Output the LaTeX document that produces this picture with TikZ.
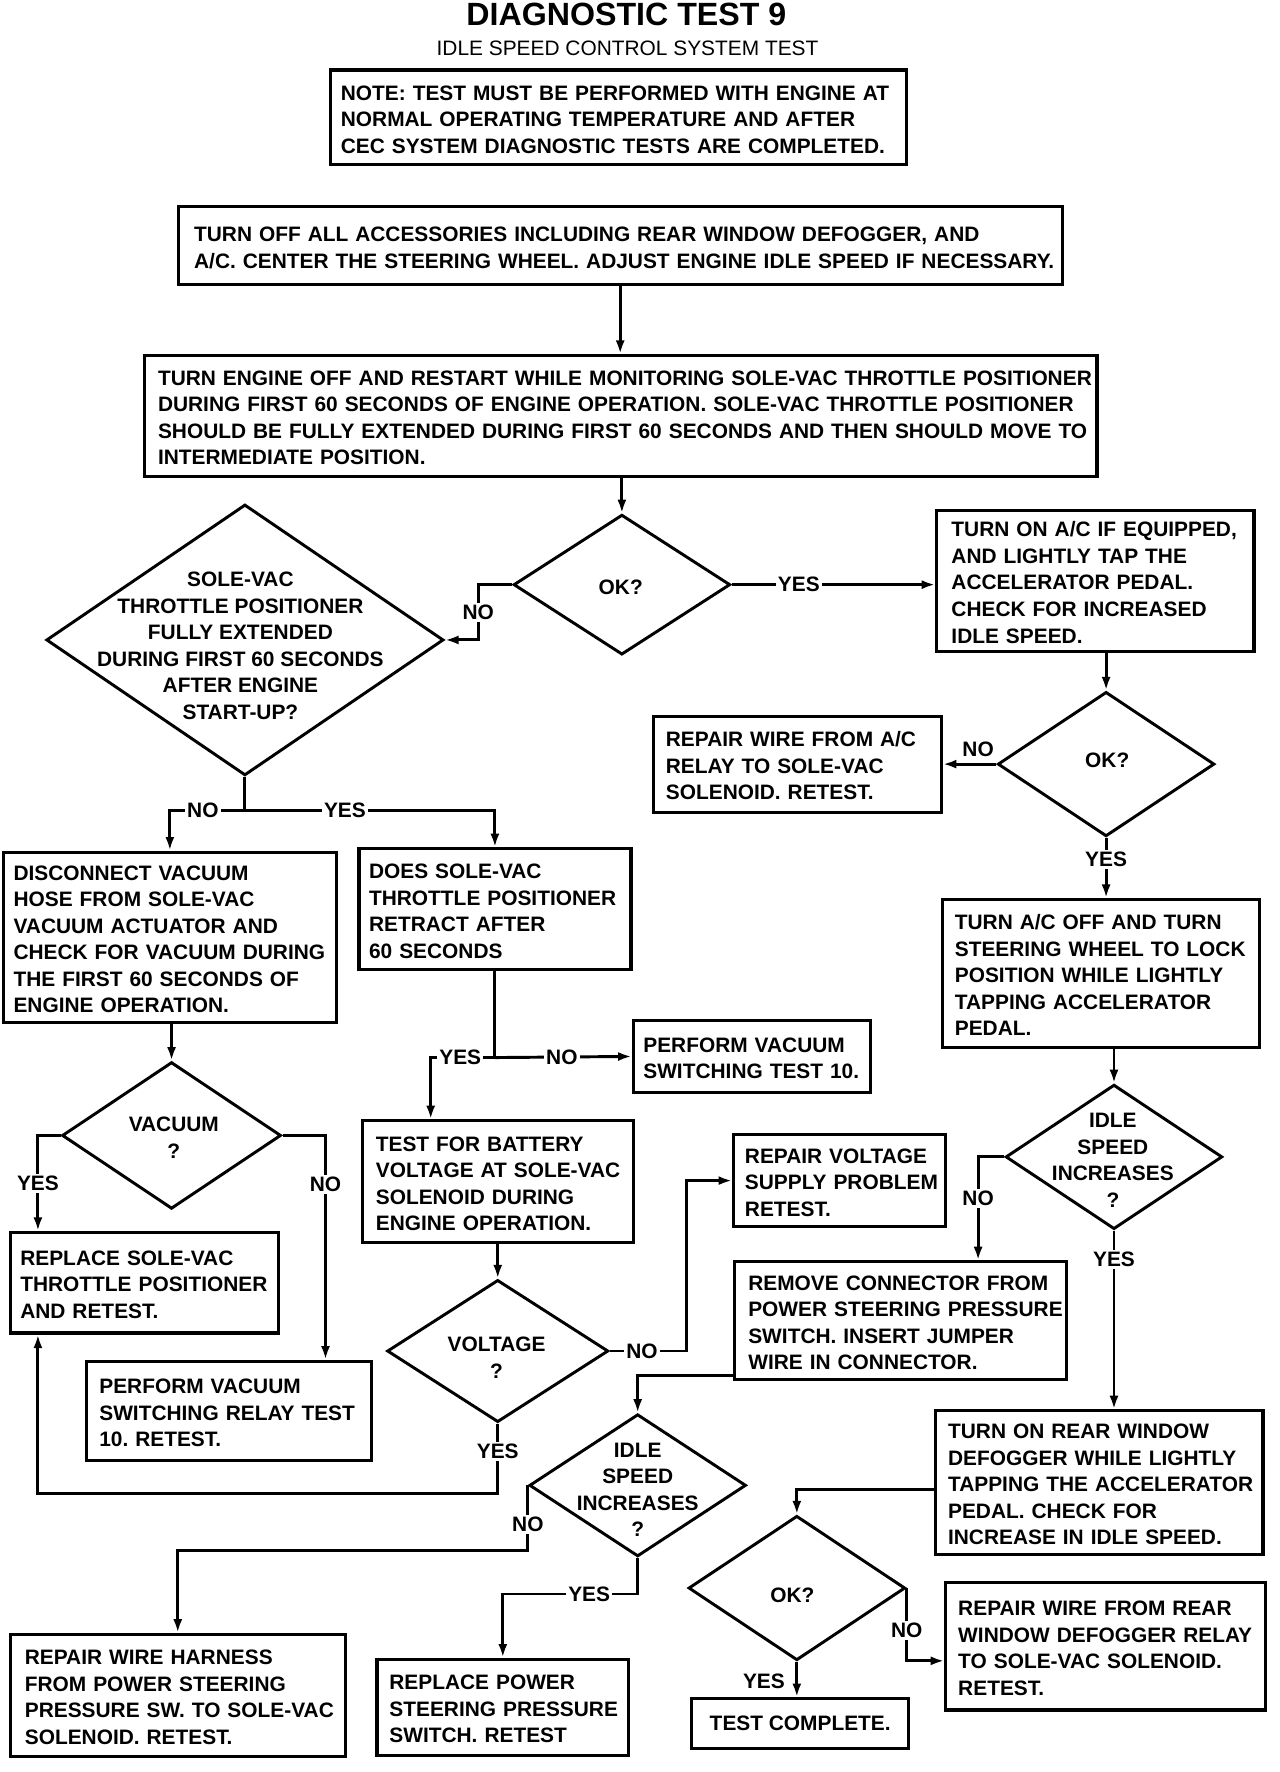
\documentclass[tikz,border=0pt]{standalone}
\usepackage{fontspec}
\setmainfont{Liberation Sans}
\usetikzlibrary{shapes.geometric,arrows.meta,calc}
\frenchspacing
\newcommand{\bfont}{\fontsize{18.5}{23.5}\selectfont\bfseries\frenchspacing}
\newcommand{\bt}[1]{\raisebox{-3.5pt}[\height][\depth]{\begin{tabular}{@{}l@{}}#1\end{tabular}}}
\begin{document}
\begin{tikzpicture}[x=1pt,y=-1pt,
 box/.style={draw,rectangle,line width=2.8pt,inner xsep=#1,inner ysep=0pt,font=\bfont,align=left},
 dia/.style={draw,diamond,line width=2.6pt,inner sep=0pt},
 dtxt/.style={align=center,font=\bfont,inner sep=0pt},
 lab/.style={fill=white,inner sep=2pt,font=\bfont},
 ln/.style={line width=2.6pt},
 arr/.style={ln,-{Latex[length=12pt,width=8pt]}}]
\fill[white] (0,0) rectangle (1134,1570);
\useasboundingbox (0,0) rectangle (1134,1570);

% titles
\node[font=\fontsize{28.5}{30}\selectfont\bfseries] (title) at (555,13) {DIAGNOSTIC TEST 9};
\node[font=\fontsize{18.5}{20}\selectfont] (sub) at (556,43) {IDLE SPEED CONTROL SYSTEM TEST};

% boxes
\node[box=9pt,minimum width=510pt,minimum height=84pt,text width=492pt] (note) at (548,104)
 {\bt{NOTE: TEST MUST BE PERFORMED WITH ENGINE AT\\NORMAL OPERATING TEMPERATURE AND AFTER\\CEC SYSTEM DIAGNOSTIC TESTS ARE COMPLETED.}};
\node[box=14pt,minimum width=783pt,minimum height=69pt,text width=755pt] (off) at (549.5,217.5)
 {\bt{TURN OFF ALL ACCESSORIES INCLUDING REAR WINDOW DEFOGGER, AND\\A/C. CENTER THE STEERING WHEEL. ADJUST ENGINE IDLE SPEED IF NECESSARY.}};
\node[box=12pt,minimum width=844pt,minimum height=107pt,text width=820pt] (restart) at (550,368.5)
 {\bt{TURN ENGINE OFF AND RESTART WHILE MONITORING SOLE-VAC THROTTLE POSITIONER\\DURING FIRST 60 SECONDS OF ENGINE OPERATION. SOLE-VAC THROTTLE POSITIONER\\SHOULD BE FULLY EXTENDED DURING FIRST 60 SECONDS AND THEN SHOULD MOVE TO\\INTERMEDIATE POSITION.}};
\node[box=13pt,minimum width=281pt,minimum height=125pt,text width=255pt] (acon) at (970.5,514.5)
 {\bt{TURN ON A/C IF EQUIPPED,\\AND LIGHTLY TAP THE\\ACCELERATOR PEDAL.\\CHECK FOR INCREASED\\IDLE SPEED.}};
\node[box=11pt,minimum width=255pt,minimum height=85pt,text width=233pt] (acr) at (706.5,677)
 {\bt{REPAIR WIRE FROM A/C\\RELAY TO SOLE-VAC\\SOLENOID. RETEST.}};
\node[box=11pt,minimum width=281pt,minimum height=131pt,text width=259pt] (acoff) at (975.5,862.5)
 {\bt{TURN A/C OFF AND TURN\\STEERING WHEEL TO LOCK\\POSITION WHILE LIGHTLY\\TAPPING ACCELERATOR\\PEDAL.}};
\node[box=9pt,minimum width=295pt,minimum height=151pt,text width=277pt] (disc) at (150.5,830.5)
 {\bt{DISCONNECT VACUUM\\HOSE FROM SOLE-VAC\\VACUUM ACTUATOR AND\\CHECK FOR VACUUM DURING\\THE FIRST 60 SECONDS OF\\ENGINE OPERATION.}};
\node[box=9pt,minimum width=241pt,minimum height=107pt,text width=223pt] (does) at (438.5,805.5)
 {\bt{DOES SOLE-VAC\\THROTTLE POSITIONER\\RETRACT AFTER\\60 SECONDS}};
\node[box=9pt,minimum width=210pt,minimum height=64pt,text width=192pt] (pvs) at (666,936)
 {\bt{PERFORM VACUUM\\SWITCHING TEST 10.}};
\node[box=12pt,minimum width=240pt,minimum height=108pt,text width=216pt] (batt) at (441,1047)
 {\bt{TEST FOR BATTERY\\VOLTAGE AT SOLE-VAC\\SOLENOID DURING\\ENGINE OPERATION.}};
\node[box=10pt,minimum width=188pt,minimum height=82pt,text width=168pt] (rvs) at (744,1046)
 {\bt{REPAIR VOLTAGE\\SUPPLY PROBLEM\\RETEST.}};
\node[box=12pt,minimum width=294pt,minimum height=104pt,text width=270pt] (rem) at (798,1170)
 {\bt{REMOVE CONNECTOR FROM\\POWER STEERING PRESSURE\\SWITCH. INSERT JUMPER\\WIRE IN CONNECTOR.}};
\node[box=9pt,minimum width=238pt,minimum height=89pt,text width=220pt] (rsv) at (128,1136.5)
 {\bt{REPLACE SOLE-VAC\\THROTTLE POSITIONER\\AND RETEST.}};
\node[box=11pt,minimum width=252pt,minimum height=88pt,text width=230pt] (pvr) at (203,1250)
 {\bt{PERFORM VACUUM\\SWITCHING RELAY TEST\\10. RETEST.}};
\node[box=11pt,minimum width=290pt,minimum height=127pt,text width=268pt] (rear) at (974,1313.5)
 {\bt{TURN ON REAR WINDOW\\DEFOGGER WHILE LIGHTLY\\TAPPING THE ACCELERATOR\\PEDAL. CHECK FOR\\INCREASE IN IDLE SPEED.}};
\node[box=13pt,minimum width=297pt,minimum height=108pt,text width=271pt] (rwh) at (157.5,1502)
 {\bt{REPAIR WIRE HARNESS\\FROM POWER STEERING\\PRESSURE SW. TO SOLE-VAC\\SOLENOID. RETEST.}};
\node[box=11pt,minimum width=223pt,minimum height=85pt,text width=201pt] (rps) at (445.5,1512.5)
 {\bt{REPLACE POWER\\STEERING PRESSURE\\SWITCH. RETEST}};
\node[box=11pt,minimum width=283pt,minimum height=113pt,text width=261pt] (rwd) at (979.5,1458.5)
 {\bt{REPAIR WIRE FROM REAR\\WINDOW DEFOGGER RELAY\\TO SOLE-VAC SOLENOID.\\RETEST.}};
\node[draw,rectangle,line width=2.8pt,inner sep=0pt,font=\bfont,minimum width=192pt,minimum height=44pt] (tc) at (709,1527) {TEST COMPLETE.};

% diamonds
\node[dia,minimum width=192pt,minimum height=124pt] (ok1) at (551,518) {};
\node[dtxt] (ok1t) at (550,520) {OK?};
\node[dia,minimum width=352pt,minimum height=240pt] (sv) at (217,567) {};
\node[dtxt] (svt) at (213,572) {SOLE-VAC\\THROTTLE POSITIONER\\FULLY EXTENDED\\DURING FIRST 60 SECONDS\\AFTER ENGINE\\START-UP?};
\node[dia,minimum width=192pt,minimum height=128pt] (ok2) at (980,677) {};
\node[dtxt] (ok2t) at (981,674) {OK?};
\node[dia,minimum width=194pt,minimum height=130pt] (vac) at (152,1006) {};
\node[dtxt] (vact) at (154,1008) {VACUUM\\?};
\node[dia,minimum width=196pt,minimum height=126pt] (volt) at (441,1197) {};
\node[dtxt] (voltt) at (440,1203) {VOLTAGE\\?};
\node[dia,minimum width=192pt,minimum height=128pt] (is1) at (987,1025) {};
\node[dtxt] (is1t) at (986,1028) {IDLE\\SPEED\\INCREASES\\?};
\node[dia,minimum width=192pt,minimum height=126pt] (is2) at (565,1316) {};
\node[dtxt] (is2t) at (565,1320) {IDLE\\SPEED\\INCREASES\\?};
\node[dia,minimum width=192pt,minimum height=128pt] (ok3) at (706,1407) {};
\node[dtxt] (ok3t) at (702,1413) {OK?};

% connectors
\draw[arr] (off.south) -- (off.south |- restart.north);
\draw[arr] (ok1.north |- restart.south) -- (ok1.north);
\draw[arr] (ok1.east) -- node[lab,pos=0.33] (l1) {YES} (ok1.east -| acon.west);
\draw[arr] (ok1.west) -- ++(-30,0) |- node[lab,pos=0.25] (l2) {NO} (sv.east);
\coordinate (sp1) at (217,718);
\draw[ln] (sv.south) -- (sp1);
\draw[arr] (sp1) -| node[lab,pos=0.28] (l3) {NO} (disc.north);
\draw[arr] (sp1) -| node[lab,pos=0.2] (l4) {YES} (does.north);
\draw[arr] (ok2.north |- acon.south) -- (ok2.north);
\draw[arr] (ok2.west) -- node[above=2pt,font=\bfont,pos=0.34] (l5) {NO} (ok2.west -| acr.east);
\draw[arr] (ok2.south) -- node[lab,pos=0.36] (l6) {YES} (ok2.south |- acoff.north);
\draw[arr] (is1.north |- acoff.south) -- (is1.north);
\draw[arr] (vac.north |- disc.south) -- (vac.north);
\draw[arr] (vac.west) -| node[lab,pos=0.75] (l7) {YES} ($(rsv.north west)+(26,0)$);
\draw[arr] (vac.east) -| node[lab,pos=0.61] (l8) {NO} ($(pvr.north east)+(-42,0)$);
\coordinate (j2) at (438.5,937);
\draw[ln] (does.south) -- (j2);
\draw[arr] (j2) -- node[lab,pos=0.49] (l9) {NO} (pvs.west);
\draw[arr] (j2) -| node[lab,pos=0.27] (l10) {YES} ($(batt.north west)+(62,0)$);
\draw[arr] (batt.south) -- (volt.north);
\draw[arr] (volt.east) -- node[lab,pos=0.42] (l11) {NO} ++(68,0) |- (rvs.west);
\draw[arr] (volt.south) -- node[lab,pos=0.4] (l12) {YES} ++(0,62) -| ($(rsv.south west)+(26,0)$);
\draw[arr] (is1.west) -| node[lab,pos=0.7] (l13) {NO} ($(rem.north west)+(217,0)$);
\draw[arr] (is1.south) -- node[lab,pos=0.16] (l14) {YES} (is1.south |- rear.north);
\draw[arr] ($(rem.south west)+(0,-5)$) -| (is2.north);
\draw[arr] (is2.west) -- node[lab,pos=0.6] (l15) {NO} ++(0,58) -| (rwh.north);
\draw[arr] (is2.south) -- ++(0,32) -| node[lab,pos=0.18] (l16) {YES} (rps.north);
\draw[arr] ($(rear.west)+(0,6)$) -| (ok3.north);
\draw[arr] (ok3.south) -- node[left=6pt,font=\bfont,pos=0.55] (l17) {YES} (ok3.south |- tc.north);
\draw[arr] (ok3.east) |- node[lab,pos=0.29] (l18) {NO} ($(rwd.west)+(0,13)$);
\end{tikzpicture}
\end{document}
